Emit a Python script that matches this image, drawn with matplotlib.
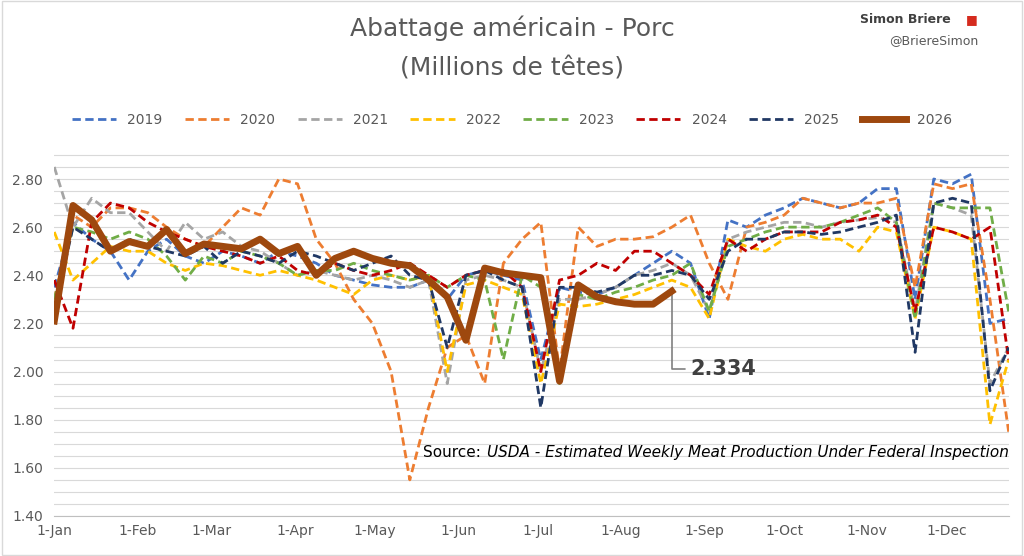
import matplotlib
matplotlib.use("Agg")
import matplotlib.pyplot as plt
import numpy as np

years = ["2019","2020","2021","2022","2023","2024","2025","2026"]
colors = ["#4472C4","#ED7D31","#A5A5A5","#FFC000","#70AD47","#C00000","#203864","#9E480E"]

y2019 = [2.35,2.62,2.55,2.50,2.38,2.50,2.55,2.48,2.45,2.50,2.48,2.45,2.50,2.48,2.45,2.40,2.38,2.36,2.35,2.35,2.38,2.30,2.40,2.42,2.40,2.38,2.05,2.35,2.33,2.32,2.35,2.40,2.45,2.50,2.45,2.22,2.63,2.60,2.65,2.68,2.72,2.70,2.68,2.70,2.76,2.76,2.30,2.80,2.78,2.82,2.20,2.22]
y2020 = [2.30,2.65,2.60,2.68,2.68,2.66,2.60,2.55,2.52,2.60,2.68,2.65,2.80,2.78,2.55,2.45,2.30,2.20,2.00,1.55,1.85,2.10,2.15,1.95,2.45,2.55,2.62,2.00,2.60,2.52,2.55,2.55,2.56,2.60,2.65,2.45,2.30,2.60,2.62,2.65,2.72,2.70,2.68,2.70,2.70,2.72,2.35,2.78,2.76,2.78,2.30,1.75]
y2021 = [2.85,2.60,2.72,2.66,2.66,2.58,2.50,2.62,2.55,2.58,2.52,2.50,2.45,2.40,2.42,2.40,2.38,2.40,2.38,2.35,2.38,1.95,2.38,2.40,2.38,2.35,2.00,2.30,2.30,2.32,2.35,2.40,2.42,2.45,2.40,2.25,2.55,2.58,2.60,2.62,2.62,2.60,2.62,2.63,2.64,2.62,2.25,2.70,2.68,2.65,1.95,2.10]
y2022 = [2.58,2.38,2.45,2.52,2.50,2.50,2.45,2.42,2.45,2.44,2.42,2.40,2.42,2.40,2.38,2.35,2.32,2.38,2.40,2.38,2.40,2.00,2.36,2.38,2.35,2.32,1.95,2.28,2.27,2.28,2.30,2.32,2.35,2.38,2.35,2.22,2.55,2.52,2.50,2.55,2.57,2.55,2.55,2.50,2.60,2.58,2.22,2.60,2.58,2.55,1.78,2.05]
y2023 = [2.30,2.60,2.58,2.55,2.58,2.55,2.48,2.38,2.48,2.45,2.50,2.48,2.45,2.40,2.42,2.42,2.45,2.42,2.40,2.38,2.40,2.35,2.40,2.38,2.05,2.40,2.35,1.95,2.32,2.30,2.33,2.35,2.38,2.40,2.45,2.25,2.52,2.55,2.58,2.60,2.60,2.60,2.62,2.65,2.68,2.62,2.22,2.70,2.68,2.68,2.68,2.25]
y2024 = [2.38,2.18,2.62,2.70,2.68,2.62,2.58,2.55,2.52,2.50,2.48,2.45,2.48,2.42,2.40,2.45,2.42,2.40,2.42,2.45,2.40,2.35,2.40,2.42,2.42,2.35,2.00,2.38,2.40,2.45,2.42,2.50,2.50,2.45,2.40,2.32,2.55,2.50,2.55,2.58,2.58,2.58,2.62,2.63,2.65,2.60,2.25,2.60,2.58,2.55,2.60,2.05]
y2025 = [2.25,2.60,2.55,2.50,2.55,2.52,2.50,2.48,2.52,2.45,2.50,2.48,2.45,2.50,2.48,2.45,2.42,2.45,2.48,2.40,2.38,2.10,2.40,2.42,2.38,2.35,1.85,2.35,2.35,2.33,2.35,2.40,2.40,2.42,2.40,2.30,2.50,2.55,2.55,2.58,2.58,2.57,2.58,2.60,2.62,2.65,2.08,2.70,2.72,2.70,1.92,2.10]
y2026 = [2.21,2.69,2.63,2.50,2.54,2.52,2.59,2.49,2.53,2.52,2.51,2.55,2.49,2.52,2.40,2.47,2.50,2.47,2.45,2.44,2.38,2.31,2.13,2.43,2.41,2.40,2.39,1.96,2.36,2.31,2.29,2.28,2.28,2.334]
series = [y2019,y2020,y2021,y2022,y2023,y2024,y2025,y2026]

month_days = [0,31,59,90,120,151,181,212,243,273,304,334]
month_labels = ["1-Jan","1-Feb","1-Mar","1-Apr","1-May","1-Jun","1-Jul","1-Aug","1-Sep","1-Oct","1-Nov","1-Dec"]

fig = plt.figure(figsize=(10.24,5.56), dpi=100)
ax = fig.add_axes([0.053,0.072,0.932,0.658])
for name, c, vals in zip(years, colors, series):
    x = np.arange(len(vals))*7
    if name == "2026":
        ax.plot(x, vals, color=c, lw=5, label=name, zorder=10)
    else:
        ax.plot(x, vals, color=c, lw=2, ls=(0,(3,1.6)), label=name)

ax.set_ylim(1.4, 2.92)
ax.set_yticks(np.arange(1.4, 2.81, 0.2))
ax.set_yticklabels([f"{v:.2f}" for v in np.arange(1.4, 2.81, 0.2)])
ax.set_yticks(np.arange(1.4, 2.93, 0.05), minor=True)
ax.set_xlim(0, 357)
ax.set_xticks(month_days)
ax.set_xticklabels(month_labels)
ax.grid(axis="y", which="both", color="#D9D9D9", lw=0.8)
ax.tick_params(axis="both", length=0, labelsize=10, colors="#595959")
ax.tick_params(axis="x", pad=6)
ax.tick_params(axis="y", pad=8)
ax.tick_params(which="minor", length=0)
for s in ["top","right","left"]:
    ax.spines[s].set_visible(False)
ax.spines["bottom"].set_color("#BFBFBF")

last_x = (len(y2026)-1)*7
ax.annotate(f"{y2026[-1]:.3f}", xy=(last_x, y2026[-1]), xytext=(last_x+7, 2.01),
            fontsize=15, fontweight="bold", color="#404040", va="center",
            arrowprops=dict(arrowstyle="-", color="#808080", lw=1.2,
                            connectionstyle="angle,angleA=0,angleB=90"))
fig.text(0.474, 0.178, "Source: ", fontsize=11, color="black", ha="right")
fig.text(0.476, 0.178, "USDA - Estimated Weekly Meat Production Under Federal Inspection", fontsize=11, style="italic")

fig.text(0.5, 0.935, "Abattage américain - Porc", ha="center", fontsize=18, color="#595959")
fig.text(0.5, 0.865, "(Millions de têtes)", ha="center", fontsize=18, color="#595959")
fig.text(0.928, 0.958, "Simon Briere", ha="right", fontsize=9, fontweight="bold", color="#404040")
fig.text(0.955, 0.958, "■", ha="right", fontsize=9, color="#D52B1E")
fig.text(0.955, 0.92, "@BriereSimon", ha="right", fontsize=9, color="#595959")

handles, labels = ax.get_legend_handles_labels()
fig.legend(handles, labels, loc="center", bbox_to_anchor=(0.5, 0.785), ncol=8, frameon=False,
           fontsize=10, handlelength=3.2, columnspacing=1.6, labelcolor="#595959")
fig.patches.append(plt.Rectangle((0.002,0.002),0.996,0.996, transform=fig.transFigure, fill=False, ec="#D9D9D9", lw=1))
fig.savefig("out.png", dpi=100)
